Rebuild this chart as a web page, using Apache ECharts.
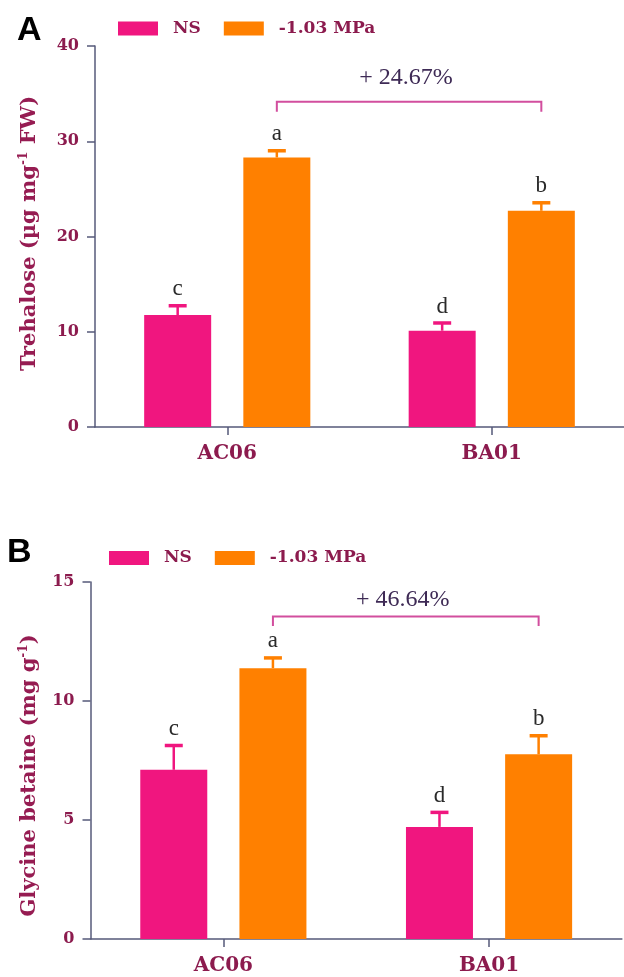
<!DOCTYPE html>
<html>
<head>
<meta charset="utf-8">
<script src="https://cdn.jsdelivr.net/npm/echarts@6/dist/echarts.min.js"></script>
<style>
  html, body { margin: 0; padding: 0; background: #ffffff; }
  #chart { width: 624px; height: 977px; }
</style>
</head>
<body>
<div id="chart"></div>
<script>
// Genotypes on the x axis and the two treatments
const categories = ['AC06', 'BA01'];
const treatments = ['NS', '-1.03 MPa'];

// Panel A: trehalose (µg mg-1 FW), means and error bars
const trehaloseNS = [11.76, 10.11];
const trehaloseNSErr = [0.97, 0.81];
const trehaloseStress = [28.3, 22.7];
const trehaloseStressErr = [0.7, 0.84];
const trehaloseNSLetters = ['c', 'd'];
const trehaloseStressLetters = ['a', 'b'];
const trehaloseGain = '+ 24.67%';

// Panel B: glycine betaine (mg g-1), means and error bars
const betaineNS = [7.11, 4.71];
const betaineNSErr = [1.02, 0.61];
const betaineStress = [11.38, 7.76];
const betaineStressErr = [0.43, 0.78];
const betaineNSLetters = ['c', 'd'];
const betaineStressLetters = ['a', 'b'];
const betaineGain = '+ 46.64%';

// Look and layout
const PINK = '#F0167F';
const ORANGE = '#FF8000';
const MAROON = '#8C1B4E';
const AXIS = '#565A7A';
const BRACKET = '#D24E9E';
const SERIF_BOLD = 'DejaVu Serif';
const TIMES = 'Liberation Serif';
const BAR_W = 67;
const BAR_GAP = 0.48;
const HALF_STEP = (BAR_W + BAR_W * BAR_GAP) / 2;

const chart = echarts.init(document.getElementById('chart'), null, { renderer: 'canvas' });

function errorSeries(name, means, errs, letters, color, offset, axisIdx) {
  return {
    type: 'custom',
    name: name,
    xAxisIndex: axisIdx,
    yAxisIndex: axisIdx,
    z: 3,
    silent: true,
    data: means.map((m, i) => [i, m, errs[i], letters[i]]),
    renderItem: function (params, api) {
      const i = api.value(0);
      const m = api.value(1);
      const e = api.value(2);
      const base = api.coord([i, m]);
      const top = api.coord([i, m + e]);
      const cx = base[0] + offset;
      return {
        type: 'group',
        children: [
          { type: 'line', shape: { x1: cx, y1: base[1], x2: cx, y2: top[1] },
            style: { stroke: color, lineWidth: 2.5 } },
          { type: 'line', shape: { x1: cx - 9, y1: top[1], x2: cx + 9, y2: top[1] },
            style: { stroke: color, lineWidth: 3.5 } },
          { type: 'text',
            style: { text: letters[params.dataIndex], x: cx, y: top[1] - 5,
              align: 'center', verticalAlign: 'bottom',
              font: '23px "' + TIMES + '"', fill: '#2A2A2A' } }
        ]
      };
    }
  };
}

function bracketSeries(level, drop, label, textLift, axisIdx) {
  return {
    type: 'custom',
    xAxisIndex: axisIdx,
    yAxisIndex: axisIdx,
    silent: true,
    z: 3,
    data: [[0, 1, level, drop]],
    renderItem: function (params, api) {
      const a = api.coord([api.value(0), api.value(2)]);
      const b = api.coord([api.value(1), api.value(2)]);
      const lo = api.coord([api.value(0), api.value(2) - api.value(3)]);
      const x1 = a[0] + HALF_STEP;
      const x2 = b[0] + HALF_STEP;
      return {
        type: 'group',
        children: [
          { type: 'polyline',
            shape: { points: [[x1, lo[1]], [x1, a[1]], [x2, a[1]], [x2, lo[1]]] },
            style: { stroke: BRACKET, lineWidth: 2, fill: null } },
          { type: 'text',
            style: { text: label, x: (x1 + x2) / 2 - 3, y: a[1] - textLift,
              align: 'center', verticalAlign: 'middle',
              font: '24px "' + TIMES + '"', fill: '#3E2A55' } }
        ]
      };
    }
  };
}

function yAxis(max, step, name, gap, padding) {
  return {
    type: 'value',
    min: 0,
    max: max,
    interval: step,
    name: name,
    nameLocation: 'middle',
    nameGap: gap,
    nameTextStyle: {
      fontFamily: SERIF_BOLD, fontWeight: 'bold', fontSize: 21, color: '#961C52',
      padding: padding,
      rich: {
        sup: { fontFamily: SERIF_BOLD, fontWeight: 'bold', fontSize: 12, color: '#961C52',
               verticalAlign: 'top', lineHeight: 24 }
      }
    },
    axisLine: { show: true, lineStyle: { color: AXIS, width: 1.5 } },
    axisTick: { show: true, length: 8, lineStyle: { color: AXIS, width: 1.5 } },
    axisLabel: { margin: 16, fontFamily: SERIF_BOLD, fontWeight: 'bold', fontSize: 16, color: MAROON },
    splitLine: { show: false }
  };
}

function xAxis(gridIndex) {
  return {
    type: 'category',
    gridIndex: gridIndex,
    data: categories,
    axisLine: { show: true, lineStyle: { color: AXIS, width: 1.5 } },
    axisTick: { show: true, alignWithLabel: true, length: 8, lineStyle: { color: AXIS, width: 1.5 } },
    axisLabel: { margin: 17, fontFamily: SERIF_BOLD, fontWeight: 'bold', fontSize: 20, color: MAROON }
  };
}

function legend(left, top) {
  return {
    left: left,
    top: top,
    orient: 'horizontal',
    icon: 'rect',
    itemWidth: 40,
    itemHeight: 14,
    itemGap: 23,
    selectedMode: false,
    data: treatments,
    textStyle: { fontFamily: SERIF_BOLD, fontWeight: 'bold', fontSize: 17, color: MAROON,
                 padding: [0, 0, 0, 10] }
  };
}

const yA = yAxis(40, 10, 'Trehalose (µg mg{sup|-1} FW)', 53, [0, 0, 0, 6]);
yA.gridIndex = 0;
const yB = yAxis(15, 5, 'Glycine betaine (mg g{sup|-1})', 49, [0, 30, 0, 0]);
yB.gridIndex = 1;

chart.setOption({
  animation: false,
  backgroundColor: '#ffffff',
  textStyle: { fontFamily: SERIF_BOLD },
  grid: [
    { left: 95, top: 46, width: 531, height: 381 },
    { left: 90.5, top: 582, width: 531.4, height: 357 }
  ],
  legend: [legend(113, 15), legend(104, 544.5)],
  graphic: [
    { type: 'text', left: 17, top: 14,
      style: { text: 'A', font: 'bold 34px "Liberation Sans"', fill: '#000000' } },
    { type: 'text', left: 7, top: 536,
      style: { text: 'B', font: 'bold 34px "Liberation Sans"', fill: '#000000' } }
  ],
  xAxis: [xAxis(0), xAxis(1)],
  yAxis: [yA, yB],
  series: [
    { type: 'bar', name: treatments[0], xAxisIndex: 0, yAxisIndex: 0, data: trehaloseNS,
      barWidth: BAR_W, barGap: (BAR_GAP * 100) + '%', itemStyle: { color: PINK } },
    { type: 'bar', name: treatments[1], xAxisIndex: 0, yAxisIndex: 0, data: trehaloseStress,
      barWidth: BAR_W, barGap: (BAR_GAP * 100) + '%', itemStyle: { color: ORANGE } },
    { type: 'bar', name: treatments[0], xAxisIndex: 1, yAxisIndex: 1, data: betaineNS,
      barWidth: BAR_W, barGap: (BAR_GAP * 100) + '%', itemStyle: { color: PINK } },
    { type: 'bar', name: treatments[1], xAxisIndex: 1, yAxisIndex: 1, data: betaineStress,
      barWidth: BAR_W, barGap: (BAR_GAP * 100) + '%', itemStyle: { color: ORANGE } },
    errorSeries('errA1', trehaloseNS, trehaloseNSErr, trehaloseNSLetters, PINK, -HALF_STEP, 0),
    errorSeries('errA2', trehaloseStress, trehaloseStressErr, trehaloseStressLetters, ORANGE, HALF_STEP, 0),
    errorSeries('errB1', betaineNS, betaineNSErr, betaineNSLetters, PINK, -HALF_STEP, 1),
    errorSeries('errB2', betaineStress, betaineStressErr, betaineStressLetters, ORANGE, HALF_STEP, 1),
    bracketSeries(34.15, 1.05, trehaloseGain, 24, 0),
    bracketSeries(13.55, 0.4, betaineGain, 17, 1)
  ]
});
</script>
</body>
</html>
